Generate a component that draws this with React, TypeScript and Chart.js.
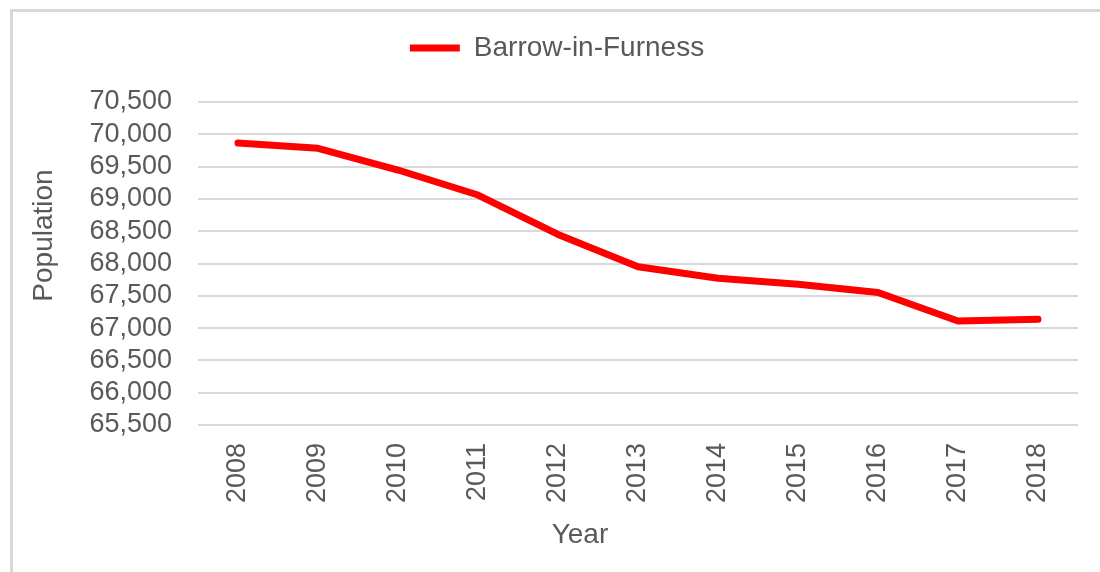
import React, { useEffect, useRef } from "react";
import { Chart, registerables } from "chart.js";

Chart.register(...registerables);

const years = ["2008", "2009", "2010", "2011", "2012", "2013", "2014", "2015", "2016", "2017", "2018"];
const population = [69865, 69783, 69447, 69060, 68450, 67951, 67771, 67678, 67550, 67110, 67136];
const seriesName = "Barrow-in-Furness";
const yTitle = "Population";
const xTitle = "Year";
const yMin = 65500;
const yMax = 70500;
const yStep = 500;

const FONT = "'Liberation Sans', Arial, sans-serif";
const TEXT = "#595959";
const GRID = "#d9d9d9";

const axisTitles = {
  id: "axisTitles",
  afterLayout(chart: any) {
    // nudge legend to match reference placement
    const lg = chart.legend;
    if (lg) {
      lg.left += 18;
      lg.right += 18;
      lg.top -= 30;
      lg.bottom -= 30;
    }
  },
  afterDraw(chart: any) {
    const { ctx, chartArea } = chart;
    ctx.save();
    ctx.fillStyle = TEXT;
    ctx.font = `28px ${FONT}`;
    ctx.textAlign = "center";
    ctx.textBaseline = "middle";
    // y title
    ctx.save();
    ctx.translate(chartArea.left - 154, (chartArea.top + chartArea.bottom) / 2 - 28);
    ctx.rotate(-Math.PI / 2);
    ctx.fillText(yTitle, 0, 0);
    ctx.restore();
    // x title
    ctx.fillText(xTitle, chartArea.left + chartArea.width * 0.434, 535);
    ctx.restore();
  },
};

export default function App() {
  const ref = useRef<HTMLCanvasElement | null>(null);
  useEffect(() => {
    if (!ref.current) return;
    const chart = new Chart(ref.current, {
      type: "line",
      data: {
        labels: years,
        datasets: [
          {
            label: seriesName,
            data: population,
            borderColor: "#ff0000",
            backgroundColor: "#ff0000",
            borderWidth: 7,
            borderCapStyle: "round",
            borderJoinStyle: "round",
            pointRadius: 0,
            pointHoverRadius: 0,
            tension: 0,
            fill: false,
          },
        ],
      },
      options: {
        responsive: false,
        animation: false,
        devicePixelRatio: 1,
        layout: { padding: { top: 34, right: 22, left: 0, bottom: 0 } },
        plugins: {
          tooltip: { enabled: false },
          legend: {
            display: true,
            position: "top",
            labels: {
              color: TEXT,
              font: { family: FONT, size: 28 },
              usePointStyle: true,
              pointStyle: "line",
              pointStyleWidth: 50,
              padding: 30,
            },
          },
        },
        scales: {
          x: {
            type: "category",
            offset: true,
            grid: { display: false, drawTicks: false, offset: true },
            border: { display: false },
            ticks: {
              color: TEXT,
              font: { family: FONT, size: 27 },
              maxRotation: 90,
              minRotation: 90,
              padding: 18,
              autoSkip: false,
            },
            afterFit: (scale: any) => {
              scale.height = 147;
            },
          },
          y: {
            min: yMin,
            max: yMax,
            grid: { color: GRID, lineWidth: 2, drawTicks: false },
            border: { display: false },
            ticks: {
              stepSize: yStep,
              autoSkip: false,
              color: TEXT,
              font: { family: FONT, size: 27 },
              padding: 26,
              callback: (v: any) => Number(v).toLocaleString("en-US"),
            },
            afterFit: (scale: any) => {
              scale.width = 198;
            },
          },
        },
      },
      plugins: [axisTitles],
    });
    return () => chart.destroy();
  }, []);

  return (
    <div style={{ position: "fixed", left: 0, top: 0, width: 1100, height: 572, background: "#fff", overflow: "hidden" }}>
      <div
        style={{
          position: "absolute",
          left: 10,
          top: 9,
          right: -10,
          bottom: -10,
          borderTop: `3px solid ${GRID}`,
          borderLeft: `3px solid ${GRID}`,
        }}
      />
      <canvas ref={ref} width={1100} height={572} style={{ position: "absolute", left: 0, top: 0, width: 1100, height: 572 }} />
    </div>
  );
}
